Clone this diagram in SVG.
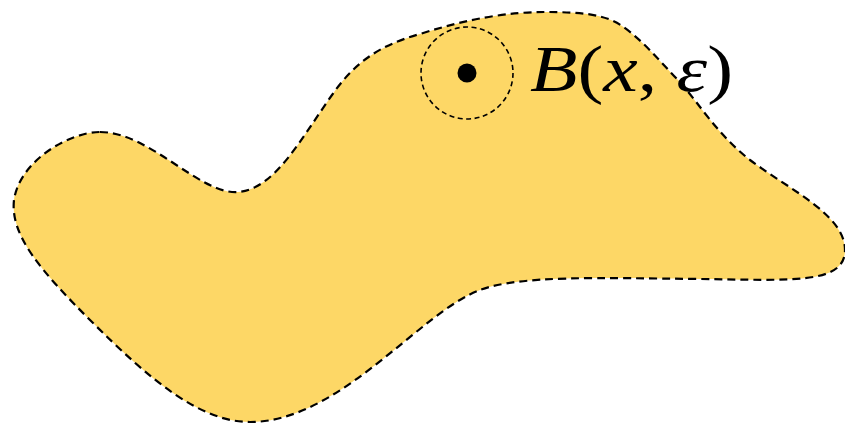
<svg xmlns="http://www.w3.org/2000/svg" width="845" height="425" viewBox="0 0 845 425">
<style>
.blob{fill:#FDD766;stroke:#000;stroke-width:2.2;stroke-dasharray:8 5}
.ball{fill:none;stroke:#000;stroke-width:1.6;stroke-dasharray:5 3.5}
.lbl{font-family:"Liberation Serif","DejaVu Serif",serif;font-size:66px;fill:#000}
.it{font-style:italic}
</style>
<g id="region">
<path class="blob" d="M100,132 C150,132 200,195 238,192 C275,189 300,140 332,95 C355,62 380,45 420,34 C470,18 510,12 545,12 C580,12 605,14 622,26 C645,42 660,62 680,82 C700,105 718,135 750,160 C790,190 845,215 845,250 C845,285 790,280 700,279 C600,278 520,275 480,290 C420,312 340,422 250,422 C200,422 150,380 90,320 C40,270 10,235 14,200 C20,160 70,132 100,132 Z"/>
</g>
<g id="ball">
<circle class="ball" cx="467" cy="73" r="46"/>
<circle cx="467" cy="73" r="9.5" fill="#000"/>
<text class="lbl" x="530" y="91" textLength="203" lengthAdjust="spacingAndGlyphs"><tspan class="it">B</tspan>(<tspan class="it">x</tspan>, <tspan class="it">ε</tspan>)</text>
</g>
</svg>
